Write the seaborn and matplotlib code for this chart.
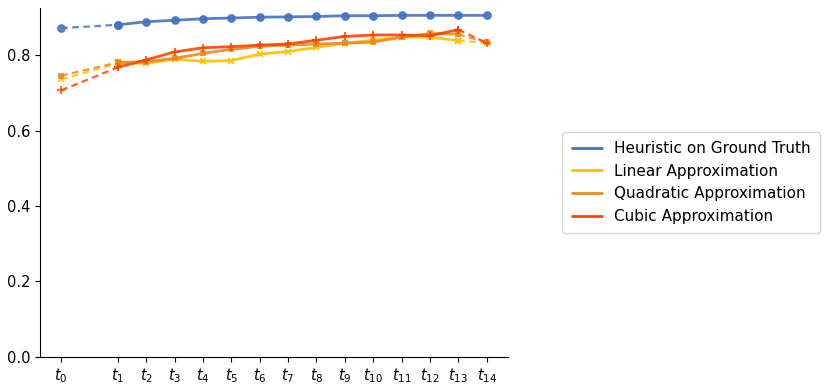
import numpy as np
import pandas as pd
import matplotlib
matplotlib.use("Agg")
import matplotlib.pyplot as plt
import seaborn as sns
from matplotlib.lines import Line2D

# time steps: t0 sits apart from t1..t14
steps = ["t0"] + ["t%d" % i for i in range(1, 15)]
positions = [0] + list(range(2, 16))
tick_labels = ["$t_{%d}$" % i for i in range(15)]

heuristic = [0.872, 0.881, 0.889, 0.893, 0.897, 0.899, 0.901, 0.902, 0.903, 0.905, 0.905, 0.906, 0.906, 0.906, 0.906]
linear = [0.736, 0.779, 0.779, 0.790, 0.784, 0.786, 0.803, 0.810, 0.821, 0.832, 0.840, 0.849, 0.848, 0.839, 0.832]
quadratic = [0.746, 0.781, 0.783, 0.792, 0.805, 0.816, 0.824, 0.827, 0.830, 0.832, 0.835, 0.848, 0.858, 0.856, 0.834]
cubic = [0.707, 0.768, 0.788, 0.809, 0.820, 0.823, 0.827, 0.830, 0.840, 0.850, 0.854, 0.854, 0.852, 0.868, 0.833]

names = ["Heuristic on Ground Truth", "Linear Approximation", "Quadratic Approximation", "Cubic Approximation"]
series = [heuristic, linear, quadratic, cubic]
colors = ["#4472C4", "#FFC000", "#EC8A1E", "#FF4500"]
markers = ["o", "x", "s", "+"]
msizes = [5, 4.5, 3.5, 6]

sns.set_style("ticks", {"text.color": "black", "xtick.color": "black",
                        "ytick.color": "black", "axes.edgecolor": "black"})
plt.rcParams["font.family"] = ["DejaVu Sans"]
fig, ax = plt.subplots(figsize=(8.3, 3.9), dpi=100)
fig.subplots_adjust(left=0.048, right=0.612, bottom=0.085, top=0.979)

for i, (name, vals, c, m, ms) in enumerate(zip(names, series, colors, markers, msizes)):
    df = pd.DataFrame({"x": positions, "y": vals})
    kw = dict(ax=ax, color=c, marker=m, markersize=ms, mew=1.3, mec=c)
    # first gap is dashed
    sns.lineplot(data=df.iloc[0:2], x="x", y="y", lw=1.6, ls=(0, (3, 2)), alpha=0.85, **kw)
    if i == 0:
        sns.lineplot(data=df.iloc[1:], x="x", y="y", lw=2, alpha=0.9, **kw)
    else:
        sns.lineplot(data=df.iloc[1:14], x="x", y="y", lw=2, alpha=0.9, **kw)
        sns.lineplot(data=df.iloc[13:15], x="x", y="y", lw=1.6, ls=(0, (3, 2)), alpha=0.85, **kw)

ax.set_xticks(positions)
ax.set_xticklabels(tick_labels, fontsize=10.5)
ax.set_ylim(0, 0.925)
ax.set_yticks([0.0, 0.2, 0.4, 0.6, 0.8])
ax.tick_params(axis="y", labelsize=10.5)
ax.set_xlabel("")
ax.set_ylabel("")
sns.despine(ax=ax)

handles = [Line2D([0], [0], color=c, lw=2) for c in colors]
ax.legend(handles, names, loc="center left", bbox_to_anchor=(1.1, 0.5), fontsize=11,
          frameon=True, borderpad=0.6)

fig.savefig("out.png", dpi=100)
